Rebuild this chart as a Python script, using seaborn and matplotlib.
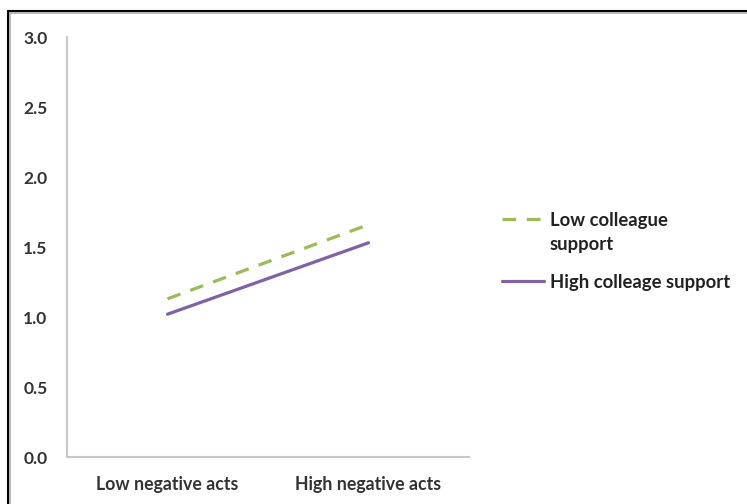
import matplotlib
matplotlib.use("Agg")
import matplotlib.pyplot as plt
import seaborn as sns
import pandas as pd
from matplotlib.lines import Line2D

categories = ["Low negative acts", "High negative acts"]
series_names = ["Low colleague support", "High colleage support"]
legend_labels = ["Low colleague", "High colleage support"]
legend_wrap = "support"
low_support = [1.13, 1.66]
high_support = [1.02, 1.53]
yticks = [0.0, 0.5, 1.0, 1.5, 2.0, 2.5, 3.0]

df = pd.DataFrame({
    "x": categories * 2,
    "y": low_support + high_support,
    "series": [series_names[0]] * 2 + [series_names[1]] * 2,
})

sns.set_style("white")
plt.rcParams["font.family"] = ["Lato", "DejaVu Sans"]

fig = plt.figure(figsize=(7.47, 5.04), dpi=100)
ax = fig.add_axes([67 / 747, 47 / 504, 402 / 747, 420 / 504])

palette = {series_names[0]: "#9BBB59", series_names[1]: "#7F62A6"}
dashes = {series_names[0]: (4.3, 3.3), series_names[1]: ""}
sns.lineplot(data=df, x="x", y="y", hue="series", style="series",
             palette=palette, dashes=dashes, linewidth=2.3, ax=ax,
             legend=False, sort=False)

ax.set_xlim(-0.5, 1.5)
ax.set_ylim(0, 3.0)
ax.set_yticks(yticks)
ax.set_yticklabels([f"{v:.1f}" for v in yticks])
ax.set_xticks([0, 1])
ax.set_xticklabels(categories)
ax.set_xlabel("")
ax.set_ylabel("")
for s in ["top", "right"]:
    ax.spines[s].set_visible(False)
for s in ["left", "bottom"]:
    ax.spines[s].set_color("#C8C8C8")
    ax.spines[s].set_linewidth(1.5)
ax.tick_params(axis="y", length=0, labelsize=12.5, colors="#333333", pad=14)
ax.tick_params(axis="x", length=0, labelsize=12.8, colors="#333333", pad=14)
for lab in ax.get_xticklabels() + ax.get_yticklabels():
    lab.set_fontweight("bold")

handles = [
    Line2D([], [], color="#9BBB59", lw=2.3, dashes=(4.3, 3.3)),
    Line2D([], [], color="#7F62A6", lw=2.3),
]
leg = fig.legend(handles, legend_labels, loc="upper left",
                 bbox_to_anchor=(485 / 747, 1 - 195 / 504), frameon=False,
                 handlelength=2.3, handletextpad=0.3, labelspacing=2.45,
                 prop={"size": 13.3, "weight": "bold"})
for t in leg.get_texts():
    t.set_color("#222222")

fig.canvas.draw()
bb0 = leg.get_texts()[0].get_window_extent()
x_txt = bb0.x0 / fig.bbox.width
y_mid = (bb0.y0 + bb0.y1) / 2
fig.text(x_txt, (y_mid - 24) / fig.bbox.height, legend_wrap, ha="left",
         va="center", fontsize=13.3, fontweight="bold", color="#222222")

# figure border (top and left visible)
fig.add_artist(Line2D([8 / 747, 1], [1 - 11 / 504] * 2, color="black", lw=1.5,
                      transform=fig.transFigure))
fig.add_artist(Line2D([8 / 747, 1], [1 - 13 / 504] * 2, color="#AAAAAA", lw=1.2,
                      transform=fig.transFigure))
fig.add_artist(Line2D([8 / 747] * 2, [0, 1 - 11 / 504], color="black", lw=1.5,
                      transform=fig.transFigure))
fig.add_artist(Line2D([10 / 747] * 2, [0, 1 - 13 / 504], color="#AAAAAA", lw=1.2,
                      transform=fig.transFigure))

fig.savefig("out.png", dpi=100)
